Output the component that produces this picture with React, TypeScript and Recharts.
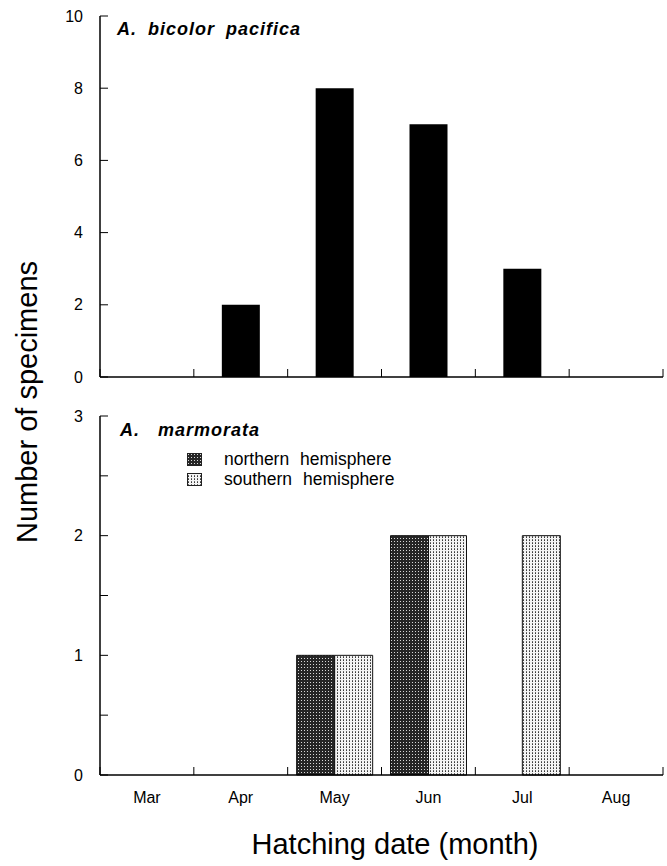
import { Bar, BarChart, XAxis, YAxis } from 'recharts';

const months = ['Mar', 'Apr', 'May', 'Jun', 'Jul', 'Aug'];
const bicolorCounts = [0, 2, 8, 7, 3, 0];
const northernCounts = [0, 0, 1, 2, 0, 0];
const southernCounts = [0, 0, 1, 2, 2, 0];
const topTicks = [0, 2, 4, 6, 8, 10];
const bottomTicks = [0, 0.5, 1, 1.5, 2, 2.5, 3];

const FONT = '"Liberation Sans", Arial, Helvetica, sans-serif';

const topData = months.map((m, i) => ({ month: m, count: bicolorCounts[i] }));
const bottomData = months.map((m, i) => ({
  month: m,
  northern: northernCounts[i],
  southern: southernCounts[i],
}));

const PatternDefs = () => (
  <defs>
    <pattern id="northFill" width="3" height="3" patternUnits="userSpaceOnUse">
      <rect width="3" height="3" fill="#262626" />
      <rect x="1" y="1" width="1" height="1" fill="#d8d8d8" />
    </pattern>
    <pattern id="southFill" width="3" height="3" patternUnits="userSpaceOnUse">
      <rect width="3" height="3" fill="#f4f4f4" />
      <rect x="1" y="0" width="1" height="1" fill="#3a3a3a" />
      <rect x="1" y="2" width="1" height="1" fill="#6a6a6a" />
    </pattern>
  </defs>
);

const Swatch = ({ fill }: { fill: string }) => (
  <svg width={15} height={13} style={{ display: 'block' }}>
    <PatternDefs />
    <rect x={0.5} y={0.5} width={14} height={12} fill={fill} stroke="#222" />
  </svg>
);

const axisTick = { fontSize: 16, fill: '#000', fontFamily: FONT };

// month ticks sit between categories, pointing up from the axis
const MonthTick = (props: any) => {
  const { x, y, payload, index, lift = 0, showLabel = false } = props;
  const half = payload?.offset || 563 / 12;
  const axisY = y - lift;
  return (
    <g>
      <line x1={x - half} x2={x - half} y1={axisY} y2={axisY - 8} stroke="#000" />
      {index === months.length - 1 && (
        <line x1={x + half} x2={x + half} y1={axisY} y2={axisY - 8} stroke="#000" />
      )}
      {showLabel && (
        <text x={x} y={y} dy="0.71em" textAnchor="middle" fontSize={16} fontFamily={FONT} fill="#000">
          {payload.value}
        </text>
      )}
    </g>
  );
};

export default function App() {
  return (
    <div
      style={{
        position: 'absolute',
        left: 0,
        top: 0,
        width: 667,
        height: 866,
        background: '#fff',
        fontFamily: FONT,
      }}
    >
      {/* upper panel */}
      <div style={{ position: 'absolute', left: 0, top: 0 }}>
        <BarChart width={667} height={390} data={topData} margin={{ top: 16, right: 4, bottom: 3, left: 0 }}>
          <XAxis
            dataKey="month"
            height={10}
            tickLine={false}
            tickSize={0}
            tickMargin={0}
            tick={(p: any) => <MonthTick {...p} lift={0} />}
            axisLine={{ stroke: '#000', strokeWidth: 1.5 }}
          />
          <YAxis
            domain={[0, 10]}
            ticks={topTicks}
            width={100}
            tickSize={-8}
            tickMargin={25}
            tick={axisTick}
            tickLine={{ stroke: '#000' }}
            axisLine={{ stroke: '#000', strokeWidth: 1.5 }}
          />
          <Bar dataKey="count" fill="#000" barSize={38} isAnimationActive={false} />
        </BarChart>
      </div>
      <div
        style={{
          position: 'absolute',
          left: 117,
          top: 20,
          fontSize: 18,
          lineHeight: 1,
          fontWeight: 'bold',
          fontStyle: 'italic',
          letterSpacing: 1,
          wordSpacing: 5,
          whiteSpace: 'nowrap',
        }}
      >
        A. bicolor pacifica
      </div>

      {/* lower panel */}
      <div style={{ position: 'absolute', left: 0, top: 390 }}>
        <BarChart
          width={667}
          height={476}
          data={bottomData}
          barGap={0}
          margin={{ top: 26, right: 4, bottom: 51, left: 0 }}
        >
          <PatternDefs />
          <XAxis
            dataKey="month"
            height={40}
            tickLine={false}
            tickSize={0}
            tickMargin={17}
            tick={(p: any) => <MonthTick {...p} lift={17} showLabel />}
            axisLine={{ stroke: '#000', strokeWidth: 1.5 }}
          />
          <YAxis
            domain={[0, 3]}
            ticks={bottomTicks}
            width={100}
            tickSize={-8}
            tickMargin={25}
            tick={axisTick}
            tickFormatter={(v: number) => (Number.isInteger(v) ? String(v) : '')}
            tickLine={{ stroke: '#000' }}
            axisLine={{ stroke: '#000', strokeWidth: 1.5 }}
          />
          <Bar dataKey="northern" fill="url(#northFill)" stroke="#111" barSize={38} isAnimationActive={false} />
          <Bar dataKey="southern" fill="url(#southFill)" stroke="#111" barSize={38} isAnimationActive={false} />
        </BarChart>
      </div>
      <div
        style={{
          position: 'absolute',
          left: 120,
          top: 421,
          fontSize: 18,
          lineHeight: 1,
          fontWeight: 'bold',
          fontStyle: 'italic',
          letterSpacing: 1,
          wordSpacing: 12,
          whiteSpace: 'nowrap',
        }}
      >
        A. marmorata
      </div>
      <div style={{ position: 'absolute', left: 187, top: 449, fontSize: 17.5, wordSpacing: 6 }}>
        <div style={{ display: 'flex', alignItems: 'center', height: 20 }}>
          <Swatch fill="url(#northFill)" />
          <span style={{ marginLeft: 22, whiteSpace: 'nowrap' }}>northern hemisphere</span>
        </div>
        <div style={{ display: 'flex', alignItems: 'center', height: 20 }}>
          <Swatch fill="url(#southFill)" />
          <span style={{ marginLeft: 22, whiteSpace: 'nowrap' }}>southern hemisphere</span>
        </div>
      </div>

      {/* shared axis titles */}
      <div
        style={{
          position: 'absolute',
          left: 395,
          top: 830,
          transform: 'translateX(-50%)',
          fontSize: 29,
          lineHeight: 1,
          whiteSpace: 'nowrap',
        }}
      >
        Hatching date (month)
      </div>
      <div
        style={{
          position: 'absolute',
          left: 27,
          top: 402,
          transform: 'translate(-50%, -50%) rotate(-90deg)',
          fontSize: 29,
          lineHeight: 1,
          whiteSpace: 'nowrap',
        }}
      >
        Number of specimens
      </div>
    </div>
  );
}
